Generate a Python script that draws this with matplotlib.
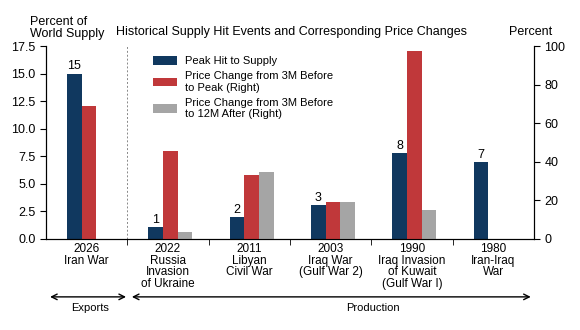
import matplotlib.pyplot as plt
import numpy as np

plt.rcParams['font.family'] = ['Liberation Sans', 'DejaVu Sans']

categories = ['2026\nIran War', '2022\nRussia\nInvasion\nof Ukraine', '2011\nLibyan\nCivil War',
              '2003\nIraq War\n(Gulf War 2)', '1990\nIraq Invasion\nof Kuwait\n(Gulf War I)', '1980\nIran-Iraq\nWar']
peak_hit = [15.0, 1.1, 2.0, 3.1, 7.8, 7.0]
peak_labels = ['15', '1', '2', '3', '8', '7']
price_to_peak = [69, 45.5, 33, 19, 97.5, np.nan]
price_to_12m = [np.nan, 3.5, 34.5, 19, 15, np.nan]

navy = '#10385f'
red = '#c0383a'
gray = '#a5a5a5'

fig = plt.figure(figsize=(5.8, 3.3), dpi=100)
ax = fig.add_axes([0.0793, 0.2758, 0.8414, 0.5848])
ax2 = ax.twinx()

x = np.arange(len(categories))
w = 0.18
b1 = ax.bar(x - w + 0.03, peak_hit, w, color=navy, label='Peak Hit to Supply')
b2 = ax2.bar(x + 0.03, price_to_peak, w, color=red, label='Price Change from 3M Before\nto Peak (Right)')
b3 = ax2.bar(x + w + 0.03, price_to_12m, w, color=gray, label='Price Change from 3M Before\nto 12M After (Right)')

for xi, h, lab in zip(x, peak_hit, peak_labels):
    ax.text(xi - w + 0.03, h + 0.1, lab, ha='center', va='bottom', fontsize=9)

ax.set_xlim(-0.5, 5.5)
ax.set_ylim(0, 17.5)
ax.set_yticks(np.arange(0, 17.6, 2.5))
ax.set_yticklabels(['%.1f' % v for v in np.arange(0, 17.6, 2.5)])
ax2.set_ylim(0, 100)
ax2.set_yticks(range(0, 101, 20))

ax.set_xticks(x)
ax.set_xticklabels(categories, fontsize=8.5, linespacing=0.95)
ax.tick_params(axis='x', which='major', length=0, pad=3)
ax.set_xticks(np.arange(0.5, 5.5, 1), minor=True)
ax.tick_params(axis='x', which='minor', length=4, direction='out')
ax.tick_params(axis='y', labelsize=9, length=4)
ax2.tick_params(axis='y', labelsize=9, length=4)

for a in (ax, ax2):
    a.spines['top'].set_visible(False)

ax.axvline(0.5, color='#888888', linestyle=(0, (2, 2)), linewidth=0.7)

ax.legend(handles=[b1, b2, b3], loc='upper left', bbox_to_anchor=(0.198, 1.0), frameon=False,
          fontsize=8, handlelength=2.2, handleheight=0.8, labelspacing=0.45, handletextpad=0.7)

fig.text(0.052, 0.88, 'Percent of\nWorld Supply', fontsize=9, ha='left', va='bottom', linespacing=1.0)
fig.text(0.503, 0.885, 'Historical Supply Hit Events and Corresponding Price Changes', fontsize=9,
         ha='center', va='bottom')
fig.text(0.953, 0.885, 'Percent', fontsize=9, ha='right', va='bottom')

arrow_y = -0.30
arrow_kw = dict(arrowstyle='<->', color='black', lw=1, shrinkA=0, shrinkB=0)
ax.annotate('', xy=(0.484, arrow_y), xytext=(-0.45, arrow_y), xycoords=('data', 'axes fraction'),
            arrowprops=arrow_kw, annotation_clip=False)
ax.annotate('', xy=(5.46, arrow_y), xytext=(0.556, arrow_y), xycoords=('data', 'axes fraction'),
            arrowprops=arrow_kw, annotation_clip=False)
ax.text(0.04, -0.33, 'Exports', transform=ax.get_xaxis_transform(), ha='center', va='top', fontsize=8)
ax.text(3.52, -0.33, 'Production', transform=ax.get_xaxis_transform(), ha='center', va='top', fontsize=8)

fig.savefig('out.png', dpi=100)
